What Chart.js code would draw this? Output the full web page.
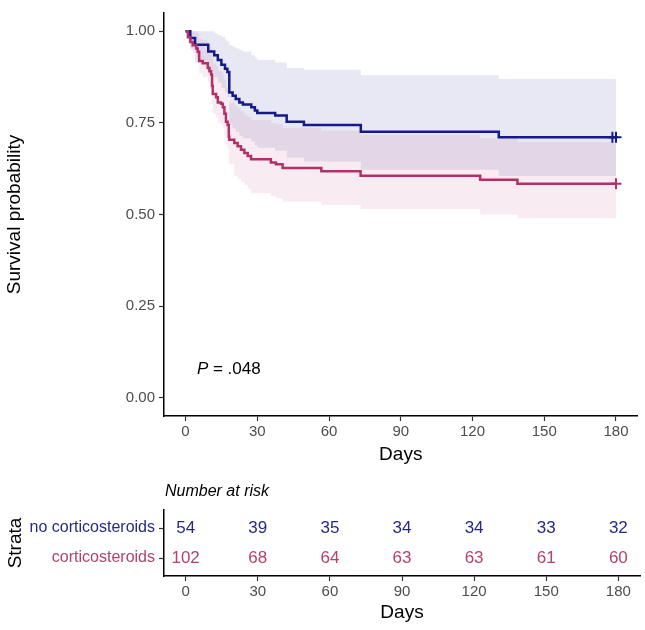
<!DOCTYPE html>
<html>
<head>
<meta charset="utf-8">
<script src="https://cdn.jsdelivr.net/npm/chart.js@4.4.1/dist/chart.umd.min.js"></script>
<style>
  body { margin: 0; background: #fff; }
  #wrap { position: relative; width: 645px; height: 630px; }
  #survChart { position: absolute; left: 0; top: 0; }
  #riskChart { position: absolute; left: 0; top: 470px; }
</style>
</head>
<body>
<div id="wrap">
  <canvas id="survChart" width="645" height="466"></canvas>
  <canvas id="riskChart" width="645" height="160"></canvas>
</div>
<script>
var FONT = "'Liberation Sans', Arial, sans-serif";
var BLUE = '#15198a';
var RED = '#b2306a';
var BLUE_TEXT = '#262a86';
var RED_TEXT = '#b3426f';
var TICK_GREY = '#4d4d4d';

// no corticosteroids: step times, survival, 95% band
var noDays  = [0, 2, 4, 9.5, 12, 13.5, 15, 16.5, 17.5, 18.3, 19.7, 21, 22.5, 24, 27.5, 29, 30, 37.5, 42.3, 49.5, 73.3, 131, 180];
var noSurv  = [1, .982, .963, .945, .935, .922, .909, .898, .889, .833, .824, .815, .806, .800, .793, .784, .777, .770, .753, .744, .726, .711, .711];
var noUpper = [1, 1, 1, 1, .995, .99, .985, .978, .972, .962, .958, .953, .949, .945, .935, .928, .922, .915, .90, .895, .88, .87, .87];
var noLower = [1, .95, .915, .89, .875, .86, .845, .833, .82, .745, .735, .725, .715, .708, .70, .69, .682, .674, .655, .645, .622, .605, .605];
var noCensor = [178.5, 180];

// corticosteroids
var ccDays  = [0, 1, 2, 3, 4.5, 5.1, 5.7, 7.2, 9.3, 10, 10.7, 11.1, 11.4, 12.8, 13.5, 14.9, 15.6, 16.25, 16.9, 17.6, 18.1, 18.3, 20.4, 21.8, 23.2, 24.6, 26, 27.4, 35.7, 37.8, 40.6, 56.8, 73.2, 123.2, 138.8, 180];
var ccSurv  = [1, .984, .971, .962, .953, .944, .919, .913, .900, .891, .882, .851, .829, .820, .806, .802, .793, .775, .753, .744, .713, .704, .695, .686, .677, .668, .660, .651, .642, .637, .627, .618, .606, .595, .584, .584];
var ccUpper = [1, 1, 1, 1, 1, .995, .98, .975, .965, .96, .955, .93, .912, .905, .893, .89, .882, .867, .848, .84, .812, .805, .797, .789, .781, .773, .766, .758, .75, .746, .737, .729, .718, .708, .698, .698];
var ccLower = [1, .97, .955, .94, .93, .915, .885, .875, .86, .85, .838, .80, .775, .765, .75, .745, .735, .715, .69, .68, .648, .638, .606, .597, .588, .58, .57, .558, .55, .545, .535, .526, .515, .50, .49, .49];
var ccCensor = [180];

var dayTicks = [0, 30, 60, 90, 120, 150, 180];
var survTicks = [0, 0.25, 0.5, 0.75, 1];
var strata = ['no corticosteroids', 'corticosteroids'];
var riskNo = [54, 39, 35, 34, 34, 33, 32];
var riskCc = [102, 68, 64, 63, 63, 61, 60];
var pValue = '.048';
var pLabelAt = [4.75, 0.078];

function toPoints(xs, ys) {
    var pts = [];
    for (var i = 0; i < xs.length; i++) {
        pts.push({ x: xs[i], y: ys[i] });
    }
    return pts;
}

function stepValue(xs, ys, d) {
    var v = ys[0];
    for (var i = 0; i < xs.length; i++) {
        if (xs[i] <= d) v = ys[i];
    }
    return v;
}

function censorPoints(censor, xs, ys) {
    return censor.map(function (d) { return { x: d, y: stepValue(xs, ys, d) }; });
}

function dayAxis(height) {
    return {
        type: 'linear',
        min: -9,
        max: 189,
        afterBuildTicks: function (s) { s.ticks = dayTicks.map(function (v) { return { value: v }; }); },
        afterFit: function (s) { s.height = height; },
        border: { display: true, color: '#000', width: 1.5 },
        grid: { drawOnChartArea: false, tickLength: 5, tickColor: '#333', tickWidth: 1.2 },
        ticks: {
            color: TICK_GREY, font: { family: FONT, size: 15 }, padding: 2,
            maxRotation: 0, autoSkip: false,
            callback: function (v) { return String(v); }
        },
        title: { display: true, text: 'Days', color: '#000', font: { family: FONT, size: 19 }, padding: 0 }
    };
}

function lineSet(xs, ys, color) {
    return {
        data: toPoints(xs, ys), borderColor: color, borderWidth: 2.5, stepped: true,
        pointRadius: 0, fill: false, borderCapStyle: 'butt', borderJoinStyle: 'miter'
    };
}

function censorSet(censor, xs, ys, color) {
    return {
        data: censorPoints(censor, xs, ys), showLine: false, pointStyle: 'cross',
        pointRadius: 5.5, pointBorderWidth: 2, borderColor: color, backgroundColor: color
    };
}

function bandSet(xs, ys, fillColor, fillTo) {
    return {
        data: toPoints(xs, ys), borderWidth: 0, borderColor: 'rgba(0,0,0,0)', stepped: true,
        pointRadius: 0, fill: fillTo, backgroundColor: fillColor
    };
}

var pLabelPlugin = {
    id: 'pLabel',
    afterDraw: function (chart) {
        var ctx = chart.ctx;
        var x = chart.scales.x.getPixelForValue(pLabelAt[0]);
        var y = chart.scales.y.getPixelForValue(pLabelAt[1]);
        ctx.save();
        ctx.fillStyle = '#000';
        ctx.textBaseline = 'middle';
        ctx.textAlign = 'left';
        ctx.font = 'italic 17px ' + FONT;
        ctx.fillText('P', x, y);
        var w = ctx.measureText('P').width;
        ctx.font = '17px ' + FONT;
        ctx.fillText(' = ' + pValue, x + w, y);
        ctx.restore();
    }
};

new Chart(document.getElementById('survChart').getContext('2d'), {
    type: 'line',
    data: {
        datasets: [
            lineSet(ccDays, ccSurv, RED),
            lineSet(noDays, noSurv, BLUE),
            censorSet(ccCensor, ccDays, ccSurv, RED),
            censorSet(noCensor, noDays, noSurv, BLUE),
            bandSet(noDays, noUpper, 'rgba(21,25,138,0.1)', '+1'),
            bandSet(noDays, noLower, 'rgba(0,0,0,0)', false),
            bandSet(ccDays, ccUpper, 'rgba(178,48,106,0.09)', '+1'),
            bandSet(ccDays, ccLower, 'rgba(0,0,0,0)', false)
        ]
    },
    options: {
        responsive: false,
        animation: false,
        layout: { padding: { left: 0, right: 5, top: 4, bottom: 0 } },
        plugins: { legend: { display: false }, tooltip: { enabled: false } },
        scales: {
            x: dayAxis(50),
            y: {
                type: 'linear',
                min: -0.05,
                max: 1.05,
                afterBuildTicks: function (s) { s.ticks = survTicks.map(function (v) { return { value: v }; }); },
                afterFit: function (s) { s.width = 164; },
                border: { display: true, color: '#000', width: 1.5 },
                grid: { drawOnChartArea: false, tickLength: 5, tickColor: '#333', tickWidth: 1.2 },
                ticks: {
                    color: TICK_GREY, font: { family: FONT, size: 15 }, padding: 4,
                    callback: function (v) { return v.toFixed(2); }
                },
                title: { display: true, text: 'Survival probability', color: '#000', font: { family: FONT, size: 19 }, padding: { top: 3, bottom: 0 } }
            }
        }
    },
    plugins: [pLabelPlugin]
});

var riskTextPlugin = {
    id: 'riskText',
    afterDraw: function (chart) {
        var ctx = chart.ctx;
        var xs = chart.scales.x;
        var ys = chart.scales.y;
        var rows = [[riskNo, 2, BLUE_TEXT], [riskCc, 1, RED_TEXT]];
        ctx.save();
        ctx.font = '17px ' + FONT;
        ctx.textAlign = 'center';
        ctx.textBaseline = 'middle';
        rows.forEach(function (row) {
            ctx.fillStyle = row[2];
            for (var i = 0; i < dayTicks.length; i++) {
                ctx.fillText(String(row[0][i]), xs.getPixelForValue(dayTicks[i]), ys.getPixelForValue(row[1]));
            }
        });
        ctx.font = 'italic 16px ' + FONT;
        ctx.textAlign = 'left';
        ctx.fillStyle = '#000';
        ctx.fillText('Number at risk', chart.chartArea.left + 1, 22);
        ctx.restore();
    }
};

new Chart(document.getElementById('riskChart').getContext('2d'), {
    type: 'scatter',
    data: { datasets: [] },
    options: {
        responsive: false,
        animation: false,
        layout: { padding: { left: 0, right: 5, top: 40, bottom: 6 } },
        plugins: { legend: { display: false }, tooltip: { enabled: false } },
        scales: {
            x: dayAxis(48),
            y: {
                type: 'linear',
                min: 0.4,
                max: 2.6,
                afterBuildTicks: function (s) { s.ticks = [{ value: 1 }, { value: 2 }]; },
                afterFit: function (s) { s.width = 164; },
                border: { display: true, color: '#000', width: 1.5 },
                grid: { drawOnChartArea: false, tickLength: 5, tickColor: '#333', tickWidth: 1.2 },
                ticks: {
                    font: { family: FONT, size: 16 }, padding: 4,
                    color: function (c) { return c.tick && c.tick.value === 2 ? BLUE_TEXT : RED_TEXT; },
                    callback: function (v) { return v === 2 ? strata[0] : strata[1]; }
                },
                title: { display: true, text: 'Strata', color: '#000', font: { family: FONT, size: 19 }, padding: { top: 4, bottom: 0 } }
            }
        }
    },
    plugins: [riskTextPlugin]
});
</script>
</body>
</html>
